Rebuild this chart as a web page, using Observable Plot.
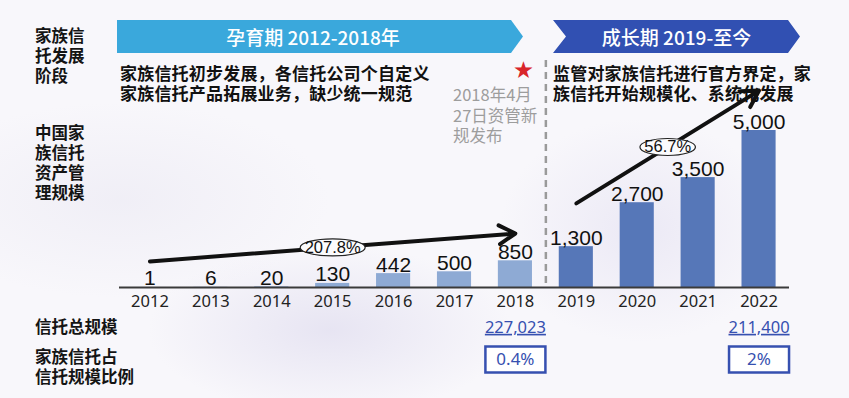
<!DOCTYPE html>
<html><head><meta charset="utf-8">
<script src="https://cdn.jsdelivr.net/npm/d3@7"></script>
<script src="https://cdn.jsdelivr.net/npm/@observablehq/plot@0.6"></script>
<style>
body{margin:0;background:#fff;}
#wrap{position:relative;width:849px;height:398px;overflow:hidden;font-family:"Noto Sans CJK SC","Noto Sans",sans-serif;
 background:
  radial-gradient(ellipse 260px 120px at 330px 330px, rgba(214,210,234,0.5), rgba(255,255,255,0) 70%),
  radial-gradient(ellipse 200px 160px at 640px 230px, rgba(220,216,238,0.45), rgba(255,255,255,0) 70%),
  radial-gradient(ellipse 300px 140px at 120px 200px, rgba(230,228,240,0.45), rgba(255,255,255,0) 70%),
  #f8f7fb;}
.abs{position:absolute;white-space:nowrap;}
.side{font-weight:700;font-size:16.5px;line-height:20px;color:#141414;}
.desc{font-weight:700;font-size:17px;line-height:20px;color:#111;letter-spacing:0.2px;}
.banner{height:33px;top:20px;color:#fff;font-size:19px;line-height:33px;text-align:center;font-weight:500;}
.b1{left:117px;width:406px;background:#3aa8dc;clip-path:polygon(0 0,394px 0,406px 16.5px,394px 33px,0 33px);}
.b2{left:553px;width:247px;background:#3150b2;clip-path:polygon(0 0,235px 0,247px 16.5px,235px 33px,0 33px,13px 16.5px);}
.note{font-size:16.5px;line-height:20.5px;color:#9d9d9d;}
.star{color:#d9252a;font-size:19px;line-height:19px;}
svg.chart{position:absolute;left:0;top:0;}
</style></head><body>
<div id="wrap">
  <div class="abs side" style="left:35px;top:25px">家族信<br>托发展<br>阶段</div>
  <div class="abs side" style="left:35px;top:122px">中国家<br>族信托<br>资产管<br>理规模</div>
  <div class="abs side" style="left:35px;top:316px">信托总规模</div>
  <div class="abs side" style="left:35px;top:346px">家族信托占<br>信托规模比例</div>
  <div class="abs banner b1"><span style="margin-left:-14px">孕育期 2012-2018年</span></div>
  <div class="abs banner b2">成长期 2019-至今</div>
  <div class="abs desc" style="left:120px;top:63px">家族信托初步发展，各信托公司个自定义<br>家族信托产品拓展业务，缺少统一规范</div>
  <div class="abs desc" style="left:553px;top:63px">监管对家族信托进行官方界定，家<br>族信托开始规模化、系统化发展</div>
  <div class="abs star" style="left:514px;top:59px">★</div>
  <div class="abs note" style="left:453px;top:84px">2018年4月<br>27日资管新<br>规发布</div>
</div>
<script>
// ---- data ----
const years = [2012, 2013, 2014, 2015, 2016, 2017, 2018, 2019, 2020, 2021, 2022];
const values = [1, 6, 20, 130, 442, 500, 850, 1300, 2700, 3500, 5000]; // 亿元
const phaseNames = ["孕育期", "成长期"];
const phaseLastYear = [2018, 2022];

const trendStartYear = [2012, 2019];
const trendEndYear = [2018, 2022];
const trendStartLevel = [830, 2680];
const trendEndLevel = [1720, 6270];
const trendLabels = ["207.8%", "56.7%"];

const totalYears = [2018, 2022];
const trustTotals = [227023, 211400];
const familyShares = ["0.4%", "2%"];

// ---- tables ----
const rows = years.map((year, i) => ({
  year, value: values[i],
  phase: phaseNames[phaseLastYear.findIndex(e => year <= e)]
}));
const trends = trendLabels.map((label, i) => ({
  x1: trendStartYear[i], x2: trendEndYear[i],
  y1: trendStartLevel[i], y2: trendEndLevel[i], label,
  xm: (trendStartYear[i] + trendEndYear[i]) / 2,
  ym: (trendStartLevel[i] + trendEndLevel[i]) / 2
}));
const totals = totalYears.map((year, i) => ({year, total: trustTotals[i], share: familyShares[i]}));
const boundary = (phaseLastYear[0] + phaseLastYear[0] + 1) / 2;

// ---- styles ----
const BAR_HALF = 0.28;
const LIGHT = "#8eaad4", DARK = "#5677b8", BLUE = "#3650b0";
const fmt = d3.format(",");

function ellipseSymbol(rx, ry) {
  const k = 0.5523;
  return {draw(c) {
    c.moveTo(rx, 0);
    c.bezierCurveTo(rx, ry * k, rx * k, ry, 0, ry);
    c.bezierCurveTo(-rx * k, ry, -rx, ry * k, -rx, 0);
    c.bezierCurveTo(-rx, -ry * k, -rx * k, -ry, 0, -ry);
    c.bezierCurveTo(rx * k, -ry, rx, -ry * k, rx, 0);
    c.closePath();
  }};
}
function boxSymbol(w, h) {
  return {draw(c) { c.rect(-w / 2, -h / 2, w, h); }};
}

const plot = Plot.plot({
  width: 849, height: 398,
  marginLeft: 119, marginRight: 60, marginTop: 60, marginBottom: 111,
  className: "chart",
  style: "background: transparent; overflow: visible;",
  x: {type: "linear", domain: [2011.5, 2022.5], axis: null},
  y: {domain: [0, 5000], range: [287, 130], axis: null},
  color: {domain: phaseNames, range: [LIGHT, DARK]},
  marks: [
    Plot.rectY(rows, {x1: d => d.year - BAR_HALF, x2: d => d.year + BAR_HALF, y: "value", fill: "phase"}),
    Plot.ruleX([boundary], {stroke: "#9a9a9a", strokeWidth: 2.5, strokeDasharray: "7,5"}),
    Plot.ruleY([0], {stroke: "#3a3a3a", strokeWidth: 2}),
    Plot.text(rows, {x: "year", y: "value", text: d => fmt(d.value), lineAnchor: "bottom", dy: -2,
      fontSize: 21, fontFamily: "Liberation Sans, Arial, sans-serif", fill: "#111"}),
    Plot.text(rows, {x: "year", text: d => String(d.year), frameAnchor: "bottom", lineAnchor: "middle", dy: 14,
      fontSize: 16.5, fontFamily: "Noto Sans, sans-serif", fill: "#222"}),
    Plot.arrow(trends, {x1: "x1", y1: "y1", x2: "x2", y2: "y2", stroke: "#111", strokeWidth: 4, headLength: 7}),
    ...trends.map(t => Plot.dot([t], {x: "xm", y: "ym",
      symbol: ellipseSymbol(4 + t.label.length * 4.75, 8.5), r: 8, fill: "#fbfbfd", stroke: "#222", strokeWidth: 1.2})),
    Plot.text(trends, {x: "xm", y: "ym", text: "label", fontSize: 16.5,
      fontFamily: "Liberation Sans, Arial, sans-serif", fill: "#111"}),
    Plot.text(totals, {x: "year", text: d => fmt(d.total), frameAnchor: "bottom", lineAnchor: "middle", dy: 40,
      fontSize: 16.5, fontFamily: "Noto Sans, sans-serif", fill: BLUE, ariaDescription: "total"}),
    Plot.dot(totals, {x: "year", y: () => 0, dy: 72, symbol: boxSymbol(60, 26), r: 10,
      fill: "#fff", stroke: BLUE, strokeWidth: 2.5}),
    Plot.text(totals, {x: "year", y: () => 0, dy: 72, text: "share",
      fontSize: 17, fontFamily: "Noto Sans, sans-serif", fill: BLUE})
  ]
});
d3.select(plot).selectAll('g[aria-description="total"] text').style("text-decoration", "underline");
document.getElementById("wrap").appendChild(plot);
</script>
</body></html>
